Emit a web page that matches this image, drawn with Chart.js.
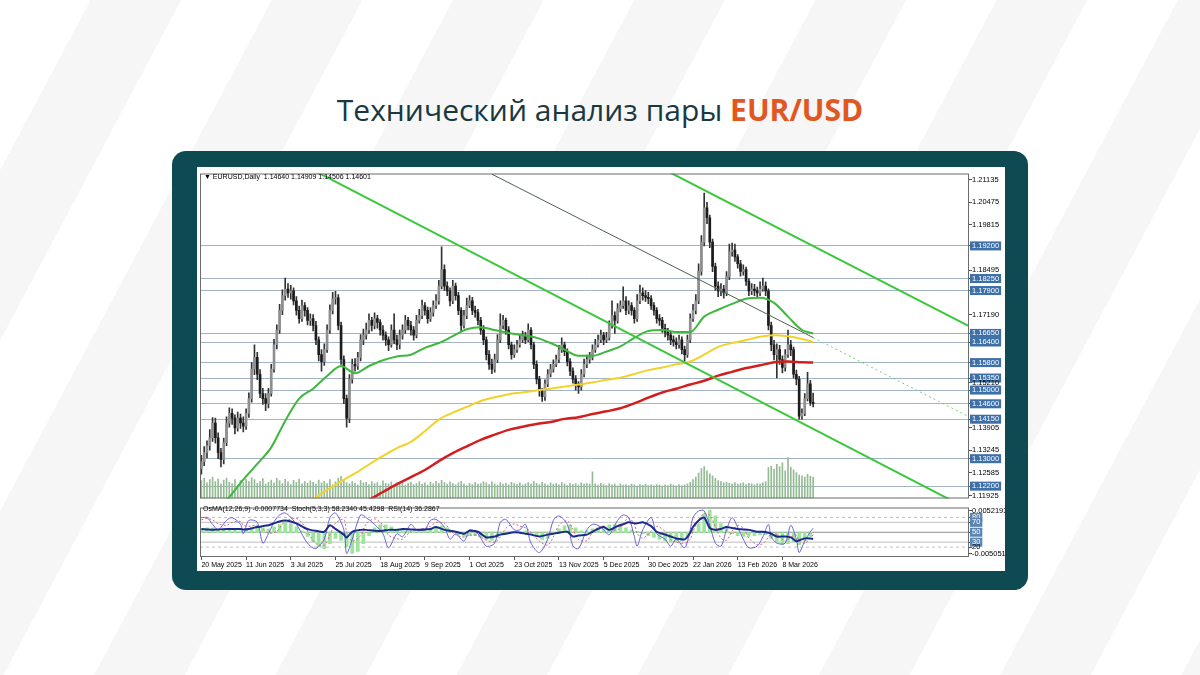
<!DOCTYPE html>
<html lang="ru">
<head>
<meta charset="utf-8">
<title>Технический анализ пары EUR/USD</title>
<script src="https://cdn.jsdelivr.net/npm/chart.js@4.4.0/dist/chart.umd.min.js"></script>
<style>
  html, body { margin: 0; padding: 0; }
  body {
    width: 1200px; height: 675px; overflow: hidden; position: relative;
    background: repeating-linear-gradient(118deg, #ffffff 0 80px, #f6f6f6 80px 160px);
  }
  h1 {
    position: absolute; left: 0; top: 89px; width: 1200px; margin: 0;
    text-align: center; font: 400 30px 'Open Sans', sans-serif; color: #1a393f;
  }
  h1 b { color: #e2561f; font-weight: 700; }
  .card { position: absolute; left: 172px; top: 151px; width: 856px; height: 439px; background: #0e4a51; border-radius: 14px; }
  .panel { position: absolute; left: 197px; top: 167px; width: 808px; height: 404px; background: #fff; }
  canvas { position: absolute; }
  #main { left: 199px; top: 169px; }
  #osc { left: 199px; top: 503px; }
  .info { position: absolute; font: 7px 'Liberation Sans', sans-serif; color: #000; white-space: pre; }
</style>
</head>
<body>
<h1>Технический анализ пары <b>EUR/USD</b></h1>
<div class="card"></div>
<div class="panel"></div>
<canvas id="main" width="806" height="334"></canvas>
<canvas id="osc" width="806" height="67"></canvas>
<div class="info" style="left:204px;top:173px">▼ EURUSD,Daily  1.14640 1.14909 1.14506 1.14601</div>
<div class="info" style="left:203px;top:505px">OsMA(12,26,9) -0.0007734  Stoch(5,3,3) 58.2340 45.4298  RSI(14) 36.2867</div>
<script>
// time axis: one bar per trading day, date label every 16 bars
const dateLabels = ['20 May 2025', '11 Jun 2025', '3 Jul 2025', '25 Jul 2025', '18 Aug 2025', '9 Sep 2025', '1 Oct 2025',
  '23 Oct 2025', '13 Nov 2025', '5 Dec 2025', '30 Dec 2025', '22 Jan 2026', '13 Feb 2026', '8 Mar 2026'];
const dateIdx = [0, 16, 32, 48, 64, 80, 96, 112, 128, 144, 160, 176, 192, 208];
const xMin = -0.5, xMax = 274.8;

// daily candles EURUSD
const opens = [
  1.1270, 1.1291, 1.1318, 1.1338, 1.1361, 1.1404, 1.1361, 1.1318, 1.1298, 1.1347,
  1.1404, 1.1432, 1.1418, 1.1390, 1.1418, 1.1404, 1.1395, 1.1432, 1.1475, 1.1561,
  1.1595, 1.1546, 1.1490, 1.1475, 1.1461, 1.1490, 1.1561, 1.1632, 1.1675, 1.1732,
  1.1775, 1.1794, 1.1783, 1.1789, 1.1760, 1.1732, 1.1708, 1.1746, 1.1732, 1.1703,
  1.1708, 1.1688, 1.1646, 1.1603, 1.1583, 1.1618, 1.1675, 1.1732, 1.1766, 1.1769,
  1.1688, 1.1589, 1.1475, 1.1418, 1.1532, 1.1575, 1.1570, 1.1595, 1.1646, 1.1660,
  1.1675, 1.1703, 1.1688, 1.1708, 1.1697, 1.1675, 1.1660, 1.1646, 1.1632, 1.1675,
  1.1646, 1.1632, 1.1660, 1.1675, 1.1703, 1.1688, 1.1675, 1.1660, 1.1703, 1.1717,
  1.1746, 1.1732, 1.1708, 1.1726, 1.1746, 1.1760, 1.1803, 1.1851, 1.1803, 1.1789,
  1.1760, 1.1803, 1.1775, 1.1732, 1.1688, 1.1717, 1.1746, 1.1760, 1.1732, 1.1726,
  1.1703, 1.1675, 1.1646, 1.1603, 1.1575, 1.1561, 1.1589, 1.1646, 1.1688, 1.1703,
  1.1675, 1.1632, 1.1603, 1.1618, 1.1632, 1.1646, 1.1660, 1.1646, 1.1675, 1.1632,
  1.1575, 1.1532, 1.1498, 1.1481, 1.1518, 1.1546, 1.1561, 1.1575, 1.1589, 1.1618,
  1.1632, 1.1612, 1.1583, 1.1555, 1.1532, 1.1518, 1.1509, 1.1546, 1.1575, 1.1589,
  1.1595, 1.1618, 1.1632, 1.1646, 1.1660, 1.1646, 1.1652, 1.1688, 1.1717, 1.1703,
  1.1737, 1.1746, 1.1760, 1.1732, 1.1746, 1.1732, 1.1708, 1.1760, 1.1783, 1.1775,
  1.1770, 1.1766, 1.1746, 1.1732, 1.1708, 1.1703, 1.1680, 1.1669, 1.1660, 1.1646,
  1.1640, 1.1632, 1.1646, 1.1618, 1.1603, 1.1646, 1.1708, 1.1732, 1.1760, 1.1846,
  1.1931, 1.2031, 1.2002, 1.1931, 1.1860, 1.1803, 1.1789, 1.1794, 1.1783, 1.1831,
  1.1903, 1.1908, 1.1888, 1.1868, 1.1846, 1.1851, 1.1817, 1.1789, 1.1794, 1.1789,
  1.1783, 1.1794, 1.1803, 1.1789, 1.1688, 1.1632, 1.1603, 1.1618, 1.1589, 1.1566,
  1.1603, 1.1632, 1.1618, 1.1546, 1.1532, 1.1424, 1.1432, 1.1475, 1.1518, 1.1464
];
const highs = [
  1.1310, 1.1335, 1.1352, 1.1385, 1.1420, 1.1418, 1.1375, 1.1330, 1.1360, 1.1422,
  1.1448, 1.1445, 1.1428, 1.1436, 1.1430, 1.1422, 1.1445, 1.1492, 1.1580, 1.1632,
  1.1610, 1.1560, 1.1505, 1.1490, 1.1505, 1.1575, 1.1648, 1.1690, 1.1750, 1.1792,
  1.1826, 1.1810, 1.1805, 1.1798, 1.1772, 1.1745, 1.1762, 1.1755, 1.1740, 1.1722,
  1.1720, 1.1700, 1.1655, 1.1618, 1.1635, 1.1690, 1.1748, 1.1785, 1.1788, 1.1778,
  1.1698, 1.1600, 1.1485, 1.1545, 1.1590, 1.1592, 1.1610, 1.1662, 1.1678, 1.1695,
  1.1722, 1.1712, 1.1725, 1.1718, 1.1705, 1.1688, 1.1670, 1.1655, 1.1690, 1.1722,
  1.1660, 1.1675, 1.1690, 1.1718, 1.1712, 1.1700, 1.1685, 1.1718, 1.1735, 1.1762,
  1.1755, 1.1742, 1.1740, 1.1760, 1.1778, 1.1820, 1.1917, 1.1865, 1.1815, 1.1798,
  1.1820, 1.1812, 1.1785, 1.1740, 1.1732, 1.1768, 1.1775, 1.1770, 1.1745, 1.1735,
  1.1712, 1.1688, 1.1655, 1.1615, 1.1590, 1.1605, 1.1662, 1.1722, 1.1718, 1.1710,
  1.1685, 1.1640, 1.1632, 1.1645, 1.1660, 1.1672, 1.1668, 1.1693, 1.1682, 1.1640,
  1.1585, 1.1540, 1.1505, 1.1530, 1.1560, 1.1575, 1.1588, 1.1602, 1.1630, 1.1652,
  1.1640, 1.1620, 1.1592, 1.1565, 1.1542, 1.1525, 1.1560, 1.1590, 1.1602, 1.1610,
  1.1632, 1.1648, 1.1660, 1.1675, 1.1668, 1.1668, 1.1702, 1.1760, 1.1728, 1.1752,
  1.1760, 1.1801, 1.1772, 1.1760, 1.1755, 1.1740, 1.1778, 1.1806, 1.1798, 1.1790,
  1.1785, 1.1775, 1.1755, 1.1740, 1.1720, 1.1712, 1.1692, 1.1680, 1.1670, 1.1658,
  1.1652, 1.1660, 1.1655, 1.1628, 1.1660, 1.1722, 1.1750, 1.1778, 1.1868, 1.1950,
  1.2074, 1.2047, 1.2010, 1.1940, 1.1870, 1.1815, 1.1810, 1.1805, 1.1845, 1.1925,
  1.1928, 1.1925, 1.1895, 1.1878, 1.1865, 1.1858, 1.1825, 1.1810, 1.1808, 1.1800,
  1.1815, 1.1826, 1.1815, 1.1795, 1.1698, 1.1645, 1.1635, 1.1630, 1.1600, 1.1618,
  1.1675, 1.1645, 1.1625, 1.1558, 1.1540, 1.1445, 1.1490, 1.1552, 1.1528, 1.1491
];
const lows = [
  1.1255, 1.1280, 1.1302, 1.1325, 1.1350, 1.1345, 1.1300, 1.1276, 1.1285, 1.1338,
  1.1392, 1.1400, 1.1372, 1.1380, 1.1388, 1.1378, 1.1385, 1.1420, 1.1465, 1.1545,
  1.1530, 1.1478, 1.1458, 1.1440, 1.1448, 1.1482, 1.1552, 1.1620, 1.1665, 1.1720,
  1.1762, 1.1770, 1.1765, 1.1748, 1.1718, 1.1695, 1.1700, 1.1715, 1.1690, 1.1688,
  1.1672, 1.1632, 1.1585, 1.1555, 1.1572, 1.1610, 1.1665, 1.1722, 1.1750, 1.1675,
  1.1575, 1.1460, 1.1392, 1.1405, 1.1520, 1.1555, 1.1560, 1.1585, 1.1632, 1.1648,
  1.1665, 1.1672, 1.1678, 1.1680, 1.1660, 1.1645, 1.1630, 1.1615, 1.1625, 1.1635,
  1.1618, 1.1620, 1.1648, 1.1665, 1.1675, 1.1660, 1.1645, 1.1652, 1.1695, 1.1708,
  1.1718, 1.1695, 1.1700, 1.1715, 1.1738, 1.1750, 1.1795, 1.1790, 1.1775, 1.1745,
  1.1752, 1.1762, 1.1720, 1.1672, 1.1680, 1.1708, 1.1740, 1.1720, 1.1712, 1.1690,
  1.1662, 1.1632, 1.1588, 1.1560, 1.1548, 1.1552, 1.1580, 1.1638, 1.1678, 1.1662,
  1.1620, 1.1590, 1.1595, 1.1610, 1.1625, 1.1638, 1.1635, 1.1640, 1.1620, 1.1562,
  1.1518, 1.1482, 1.1467, 1.1470, 1.1510, 1.1538, 1.1552, 1.1568, 1.1580, 1.1610,
  1.1600, 1.1570, 1.1542, 1.1520, 1.1500, 1.1490, 1.1500, 1.1538, 1.1565, 1.1578,
  1.1588, 1.1610, 1.1625, 1.1638, 1.1632, 1.1638, 1.1645, 1.1680, 1.1665, 1.1695,
  1.1728, 1.1738, 1.1720, 1.1722, 1.1718, 1.1695, 1.1700, 1.1752, 1.1762, 1.1758,
  1.1752, 1.1735, 1.1718, 1.1695, 1.1688, 1.1668, 1.1655, 1.1645, 1.1632, 1.1628,
  1.1620, 1.1622, 1.1605, 1.1585, 1.1595, 1.1638, 1.1700, 1.1722, 1.1752, 1.1835,
  1.1920, 1.1985, 1.1915, 1.1845, 1.1790, 1.1772, 1.1775, 1.1768, 1.1775, 1.1822,
  1.1890, 1.1875, 1.1855, 1.1832, 1.1835, 1.1805, 1.1775, 1.1778, 1.1775, 1.1770,
  1.1775, 1.1788, 1.1775, 1.1675, 1.1615, 1.1588, 1.1535, 1.1575, 1.1550, 1.1555,
  1.1595, 1.1600, 1.1535, 1.1515, 1.1415, 1.1415, 1.1425, 1.1468, 1.1455, 1.1451
];
const closes = [
  1.1291, 1.1318, 1.1338, 1.1361, 1.1404, 1.1361, 1.1318, 1.1298, 1.1347, 1.1404,
  1.1432, 1.1418, 1.1390, 1.1418, 1.1404, 1.1395, 1.1432, 1.1475, 1.1561, 1.1595,
  1.1546, 1.1490, 1.1475, 1.1461, 1.1490, 1.1561, 1.1632, 1.1675, 1.1732, 1.1775,
  1.1794, 1.1783, 1.1789, 1.1760, 1.1732, 1.1708, 1.1746, 1.1732, 1.1703, 1.1708,
  1.1688, 1.1646, 1.1603, 1.1583, 1.1618, 1.1675, 1.1732, 1.1766, 1.1769, 1.1688,
  1.1589, 1.1475, 1.1418, 1.1532, 1.1575, 1.1570, 1.1595, 1.1646, 1.1660, 1.1675,
  1.1703, 1.1688, 1.1708, 1.1697, 1.1675, 1.1660, 1.1646, 1.1632, 1.1675, 1.1646,
  1.1632, 1.1660, 1.1675, 1.1703, 1.1688, 1.1675, 1.1660, 1.1703, 1.1717, 1.1746,
  1.1732, 1.1708, 1.1726, 1.1746, 1.1760, 1.1803, 1.1851, 1.1803, 1.1789, 1.1760,
  1.1803, 1.1775, 1.1732, 1.1688, 1.1717, 1.1746, 1.1760, 1.1732, 1.1726, 1.1703,
  1.1675, 1.1646, 1.1603, 1.1575, 1.1561, 1.1589, 1.1646, 1.1688, 1.1703, 1.1675,
  1.1632, 1.1603, 1.1618, 1.1632, 1.1646, 1.1660, 1.1646, 1.1675, 1.1632, 1.1575,
  1.1532, 1.1498, 1.1481, 1.1518, 1.1546, 1.1561, 1.1575, 1.1589, 1.1618, 1.1632,
  1.1612, 1.1583, 1.1555, 1.1532, 1.1518, 1.1509, 1.1546, 1.1575, 1.1589, 1.1595,
  1.1618, 1.1632, 1.1646, 1.1660, 1.1646, 1.1652, 1.1688, 1.1717, 1.1703, 1.1737,
  1.1746, 1.1760, 1.1732, 1.1746, 1.1732, 1.1708, 1.1760, 1.1783, 1.1775, 1.1770,
  1.1766, 1.1746, 1.1732, 1.1708, 1.1703, 1.1680, 1.1669, 1.1660, 1.1646, 1.1640,
  1.1632, 1.1646, 1.1618, 1.1603, 1.1646, 1.1708, 1.1732, 1.1760, 1.1846, 1.1931,
  1.2031, 1.2002, 1.1931, 1.1860, 1.1803, 1.1789, 1.1794, 1.1783, 1.1831, 1.1903,
  1.1908, 1.1888, 1.1868, 1.1846, 1.1851, 1.1817, 1.1789, 1.1794, 1.1789, 1.1783,
  1.1794, 1.1803, 1.1789, 1.1688, 1.1632, 1.1603, 1.1618, 1.1589, 1.1566, 1.1603,
  1.1632, 1.1618, 1.1546, 1.1532, 1.1424, 1.1432, 1.1475, 1.1518, 1.1464, 1.1460
];
// tick volume, thousands
const volumes = [
  55, 62, 48, 58, 66, 52, 60, 45, 57, 63, 50, 46, 58, 41, 55, 49, 60, 52, 64, 58,
  47, 53, 61, 44, 50, 57, 48, 62, 55, 46, 59, 51, 43, 56, 49, 60, 45, 52, 47, 54,
  50, 44, 57, 48, 53, 46, 58, 42, 51, 63, 68, 56, 49, 45, 52, 47, 41, 55, 48, 50,
  43, 52, 46, 49, 40, 54, 47, 44, 51, 42, 48, 45, 53, 41, 47, 50, 43, 46, 52, 44,
  48, 41, 50, 45, 53, 47, 56, 49, 44, 51, 46, 42, 48, 53, 45, 40, 47, 43, 50, 44,
  46, 52, 48, 43, 51, 45, 41, 49, 44, 47, 42, 50, 46, 43, 48, 41, 45, 49, 44, 52,
  47, 43, 50, 45, 41, 48, 44, 46, 42, 49, 45, 40, 47, 43, 46, 41, 48, 44, 46, 44,
  82, 45, 41, 47, 43, 40, 46, 42, 44, 39, 45, 41, 43, 40, 44, 42, 38, 43, 41, 44,
  40, 42, 39, 43, 41, 38, 42, 40, 44, 41, 39, 43, 40, 42, 45, 50, 58, 66, 78, 92,
  98, 85, 76, 70, 62, 55, 52, 48, 50, 47, 45, 49, 44, 46, 48, 43, 47, 45, 42, 46,
  44, 48, 52, 95, 100, 90, 105, 98, 110, 85, 126, 96, 88, 80, 72, 70, 66, 74, 68, 66
];

// moving averages, read every 5 bars
const maIdx = [0, 5, 10, 15, 20, 25, 30, 35, 40, 45, 50, 55, 60, 65, 70, 75, 80, 85, 90, 95, 100, 105,
  110, 115, 120, 125, 130, 135, 140, 145, 150, 155, 160, 165, 170, 175, 180, 185, 190, 195, 200, 205, 210, 215, 219];
const maGreen = [
  1.1090, 1.1139, 1.1188, 1.1239, 1.1285, 1.1333, 1.1410, 1.1475, 1.1504, 1.1541,
  1.1570, 1.1549, 1.1570, 1.1587, 1.1598, 1.1603, 1.1623, 1.1637, 1.1657, 1.1677,
  1.1683, 1.1675, 1.1666, 1.1660, 1.1652, 1.1637, 1.1618, 1.1600, 1.1600, 1.1612,
  1.1627, 1.1652, 1.1672, 1.1675, 1.1669, 1.1669, 1.1714, 1.1734, 1.1751, 1.1766,
  1.1769, 1.1754, 1.1714, 1.1675, 1.1665
];
const maYellow = [
  null, null, null, null, null, null, 1.1125, 1.1155, 1.1181, 1.1209,
  1.1234, 1.1257, 1.1283, 1.1308, 1.1331, 1.1349, 1.1380, 1.1414, 1.1434, 1.1451,
  1.1468, 1.1479, 1.1488, 1.1493, 1.1499, 1.1504, 1.1510, 1.1516, 1.1522, 1.1530,
  1.1536, 1.1547, 1.1558, 1.1566, 1.1575, 1.1583, 1.1603, 1.1626, 1.1637, 1.1646,
  1.1655, 1.1660, 1.1657, 1.1649, 1.1640
];
const maRed = [
  null, null, null, null, null, null, null, null, null, null,
  null, 1.1160, 1.1180, 1.1203, 1.1226, 1.1246, 1.1267, 1.1293, 1.1316, 1.1336,
  1.1355, 1.1370, 1.1384, 1.1393, 1.1401, 1.1407, 1.1416, 1.1421, 1.1430, 1.1438,
  1.1447, 1.1461, 1.1478, 1.1493, 1.1504, 1.1516, 1.1527, 1.1542, 1.1553, 1.1564,
  1.1572, 1.1581, 1.1583, 1.1581, 1.1580
];

// trend lines as [bar, price] anchors
const channelLow = [[30, 1.2183], [280, 1.1130]];
const channelHigh = [[168, 1.2133], [276, 1.1681]];
const midLine = [[104, 1.2129], [219, 1.1653]];
const midLineExt = [[219, 1.1653], [275.3, 1.1420]];

// price scale
const priceTicks = [1.21135, 1.20475, 1.19815, 1.19200, 1.18495, 1.18250, 1.17900, 1.17190, 1.16650, 1.16400,
  1.15800, 1.15350, 1.15210, 1.15000, 1.14600, 1.14150, 1.13905, 1.13245, 1.13000, 1.12585, 1.12200, 1.11925];
const priceLevels = [1.19200, 1.18250, 1.17900, 1.16650, 1.16400, 1.15800, 1.15350, 1.15000, 1.14600, 1.14150, 1.13000, 1.12200];

// oscillator window, read at these bars
const oscIdx = [0, 2, 4, 6, 9, 11, 14, 15, 17, 20, 22, 24, 27, 30, 34, 37, 39, 41, 44, 46, 48, 51, 52, 54, 57,
  59, 62, 65, 67, 70, 72, 75, 77, 80, 82, 84, 87, 89, 91, 94, 96, 99, 102, 105, 107, 109, 112, 114, 116, 118,
  121, 124, 126, 128, 131, 133, 135, 138, 140, 142, 144, 146, 149, 151, 153, 155, 156, 158, 161, 163, 166, 168,
  170, 173, 175, 176, 178, 180, 182, 184, 186, 188, 190, 192, 194, 196, 199, 201, 203, 204, 206, 209, 211, 213,
  214, 216, 218, 219];
const stochMain = [
  79.5, 79.5, 66, 55, 74, 79.5, 66, 47, 74, 70, 28, 47, 79.5, 89, 66, 36, 22, 17, 36, 79.5,
  89, 55, 7, 36, 85, 79.5, 66, 47, 18.6, 47, 41, 66, 55, 55, 74, 76, 60, 36, 47, 32,
  55, 47, 22, 28, 70, 76, 55, 55, 66, 28, 9, 36, 74, 83, 66, 22, 17, 55, 66, 64,
  55, 45, 74, 85, 79.5, 41, 22, 55, 79.5, 47, 36, 22, 36, 18.6, 55, 79.5, 93, 93, 64, 28,
  22, 55, 79.5, 60, 36, 18.6, 22, 41, 66, 41, 28, 28, 64, 36, 9, 32, 51, 58.2
];
const stochSignal = [
  75, 78, 75, 67, 64, 70, 72, 64, 62, 64, 57, 48, 52, 72, 78, 62, 42, 27, 24, 45,
  68, 76, 50, 32, 43, 67, 77, 64, 44, 37, 36, 52, 55, 58, 62, 70, 68, 55, 45, 40,
  44, 43, 34, 30, 40, 58, 67, 62, 59, 50, 32, 24, 40, 64, 73, 56, 35, 33, 50, 60,
  62, 56, 55, 68, 79, 66, 48, 38, 52, 62, 52, 35, 30, 28, 36, 52, 74, 88, 84, 62,
  38, 34, 52, 64, 58, 38, 25, 27, 40, 48, 45, 32, 40, 44, 32, 28, 38, 45.4
];
const rsi = [
  56.7, 55.7, 54.8, 55.7, 56.7, 56.7, 56.7, 55.7, 56.7, 60.5, 62.4, 64.3, 70, 73.8, 68, 58.6, 54.8, 52.9, 51, 64.3,
  56.7, 45.2, 39.5, 51, 54.8, 54.8, 52.9, 52.9, 54.8, 54.8, 56.7, 55.7, 54.8, 55.7, 56.7, 60.5, 54.8, 52.9, 51, 47.1,
  52.9, 51, 39.5, 41.4, 45.2, 47.1, 50, 49, 47.1, 45.2, 41.4, 45.2, 47.1, 49, 51, 41.4, 43.3, 45.2, 51, 56.7,
  60.5, 54.8, 62.4, 66.2, 70, 68, 68, 70, 62.4, 51, 45.2, 41.4, 37.6, 35.7, 49, 60.5, 73.8, 79.5, 58.6, 54.8,
  56.7, 60.5, 58.6, 56.7, 55.7, 54.8, 51, 51, 49, 47.1, 41.4, 41.4, 39.5, 31.9, 33.8, 37.6, 37.6, 36.3
];
// OsMA histogram, read at every second bar
const osma = [
  0.0008, 0.0010, 0.0010, 0.0006, 0.0006, 0.0008, 0.0006, 0.0004, 0.0006, 0.0012,
  0.0014, 0.0010, 0.0008, 0.0012, 0.0017, 0.0021, 0.0019, 0.0012, 0.0004, -0.0008,
  -0.0019, -0.0029, -0.0033, -0.0023, -0.0012, -0.0016, -0.0029, -0.0043, -0.0039, -0.0023,
  -0.0006, 0.0010, 0.0017, 0.0016, 0.0012, 0.0008, 0.0006, 0.0004, 0.0002, 0.0004,
  0.0006, 0.0008, 0.0010, 0.0014, 0.0010, 0.0004, -0.0004, -0.0008, -0.0006, -0.0006,
  -0.0010, -0.0014, -0.0016, -0.0010, -0.0002, 0.0002, 0.0002, 0.0002, 0.0004, -0.0002,
  -0.0008, -0.0014, -0.0012, 0.0000, 0.0008, 0.0014, 0.0016, 0.0010, 0.0004, 0.0004,
  0.0008, 0.0010, 0.0014, 0.0016, 0.0017, 0.0016, 0.0010, 0.0006, 0.0002, -0.0002,
  -0.0006, -0.0010, -0.0014, -0.0017, -0.0019, -0.0019, -0.0017, -0.0010, 0.0004, 0.0019,
  0.0039, 0.0047, 0.0035, 0.0019, 0.0008, -0.0002, -0.0006, -0.0008, -0.0008, -0.0006,
  -0.0004, -0.0004, -0.0012, -0.0019, -0.0025, -0.0023, -0.0019, -0.0025, -0.0017, -0.0008
];
const osmaMax = 0.0052193, osmaMin = -0.005051;
const oscLevels = [80, 70, 50, 30, 20];
const oscTicks = [93, 80, 70, 50, 30, 20, 7];
const oscTickText = [String(osmaMax), '80', '70', '50', '30', '20', String(osmaMin)];
const oscBoxed = [80, 70, 50, 30];

const tickFont = { family: "'Liberation Sans', sans-serif", size: 7.5 };
const dateFont = { family: "'Liberation Sans', sans-serif", size: 7 };
const isLevel = v => priceLevels.some(l => Math.abs(l - v) < 1e-7);
const pairs = arr => arr.map(p => ({ x: p[0], y: p[1] }));
const onIdx = (idx, arr) => arr.map((v, k) => ({ x: idx[k], y: v }));

const frame = {
  id: 'frame',
  afterDatasetsDraw(chart) {
    const { ctx, chartArea: a } = chart;
    ctx.save();
    ctx.strokeStyle = '#6b6b6b';
    ctx.lineWidth = 1;
    ctx.strokeRect(a.left + 0.5, a.top + 0.5, a.width - 1, a.height - 1);
    ctx.restore();
  }
};

const thinLine = (data, color, width, extra) => Object.assign({
  type: 'line', data, borderColor: color, borderWidth: width, pointRadius: 0, fill: false
}, extra || {});

new Chart(document.getElementById('main'), {
  type: 'bar',
  data: {
    datasets: [
      thinLine(pairs(channelLow), '#3cc83c', 2, { order: 1 }),
      thinLine(pairs(channelHigh), '#3cc83c', 2, { order: 1 }),
      thinLine(pairs(midLine), '#4f5f4f', 1, { order: 1 }),
      thinLine(pairs(midLineExt), '#72cf72', 1, { order: 1, borderDash: [2, 3] }),
      thinLine(onIdx(maIdx, maGreen), '#3db83d', 2, { order: 3, cubicInterpolationMode: 'monotone' }),
      thinLine(onIdx(maIdx, maYellow), '#f2d22a', 2, { order: 3, cubicInterpolationMode: 'monotone' }),
      thinLine(onIdx(maIdx, maRed), '#d11f1f', 2.5, { order: 3, cubicInterpolationMode: 'monotone' }),
      {
        data: closes.map((c, i) => ({ x: i, y: [opens[i], c] })),
        barThickness: 2, grouped: false, order: 6,
        backgroundColor: ctx => closes[ctx.dataIndex] >= opens[ctx.dataIndex] ? '#8f8f8f' : '#1c1c1c'
      },
      {
        data: highs.map((h, i) => ({ x: i, y: [lows[i], h] })),
        barThickness: 1, grouped: false, order: 7, backgroundColor: '#333333'
      },
      {
        data: volumes.map((v, i) => ({ x: i, y: v })), yAxisID: 'vol',
        barThickness: 1, grouped: false, order: 9, backgroundColor: '#94bb94'
      }
    ]
  },
  options: {
    responsive: false, animation: false, events: [],
    layout: { padding: { left: 1, top: 1, right: 0, bottom: 1 } },
    plugins: { legend: { display: false }, tooltip: { enabled: false } },
    scales: {
      x: { type: 'linear', min: xMin, max: xMax, offset: false, display: false, grid: { offset: false } },
      y: {
        position: 'right', min: 1.1184, max: 1.2131,
        afterBuildTicks: s => { s.ticks = priceTicks.map(v => ({ value: v })); },
        afterFit: s => { s.width = 36; },
        ticks: {
          autoSkip: false, padding: 0, font: tickFont,
          callback: v => v.toFixed(5),
          color: ctx => isLevel(ctx.tick.value) ? '#ffffff' : '#000000',
          showLabelBackdrop: ctx => isLevel(ctx.tick.value),
          backdropColor: '#3e70a8',
          backdropPadding: { x: 2, y: 0 }
        },
        grid: {
          color: ctx => isLevel(ctx.tick.value) ? '#a3b3c6' : 'rgba(0,0,0,0)',
          tickColor: '#555', tickLength: 3, lineWidth: 1
        },
        border: { display: false }
      },
      vol: { display: false, min: 0, max: 1000 }
    }
  },
  plugins: [frame]
});

new Chart(document.getElementById('osc'), {
  type: 'bar',
  data: {
    datasets: [
      ...oscLevels.map(v => thinLine([{ x: xMin, y: v }, { x: xMax, y: v }],
        v === 50 ? '#8c8c8c' : '#bdbdbd', 1,
        { yAxisID: 'osc', order: 10, borderDash: (v === 80 || v === 20) ? [3, 3] : [] })),
      {
        data: osma.map((v, k) => ({ x: k * 2, y: v })), yAxisID: 'osma',
        barThickness: 3, grouped: false, order: 9, backgroundColor: '#9be69b'
      },
      thinLine(onIdx(oscIdx, stochSignal), '#e0607a', 1, { yAxisID: 'osc', order: 3, borderDash: [2, 2], tension: 0.3 }),
      thinLine(onIdx(oscIdx, stochMain), '#6a62d8', 1, { yAxisID: 'osc', order: 2, tension: 0.3 }),
      thinLine(onIdx(oscIdx, rsi), '#1c2a8e', 2, { yAxisID: 'osc', order: 1, tension: 0.3 })
    ]
  },
  options: {
    responsive: false, animation: false, events: [],
    layout: { padding: { left: 1, top: 1, right: 0, bottom: 0 } },
    plugins: { legend: { display: false }, tooltip: { enabled: false } },
    scales: {
      x: {
        type: 'linear', min: xMin, max: xMax, offset: false, position: 'bottom',
        afterBuildTicks: s => { s.ticks = dateIdx.map(v => ({ value: v })); },
        afterFit: s => { s.height = 13; },
        ticks: {
          align: 'start', maxRotation: 0, autoSkip: false, padding: 1,
          font: dateFont, color: '#000', callback: (v, i) => dateLabels[i]
        },
        grid: { drawOnChartArea: false, tickLength: 3, tickColor: '#555', offset: false },
        border: { display: false }
      },
      osc: {
        position: 'right', min: 0, max: 100,
        afterBuildTicks: s => { s.ticks = oscTicks.map(v => ({ value: v })); },
        afterFit: s => { s.width = 36; },
        ticks: {
          autoSkip: false, padding: 0, font: tickFont,
          callback: (v, i) => oscTickText[i],
          color: ctx => oscBoxed.includes(ctx.tick.value) ? '#ffffff' : '#000000',
          showLabelBackdrop: ctx => oscBoxed.includes(ctx.tick.value),
          backdropColor: '#5d85b3',
          backdropPadding: { x: 2, y: 0 }
        },
        grid: { drawOnChartArea: false, tickLength: 3, tickColor: '#555' },
        border: { display: false }
      },
      osma: { display: false, min: osmaMin, max: osmaMax }
    }
  },
  plugins: [frame]
});
</script>
</body>
</html>
